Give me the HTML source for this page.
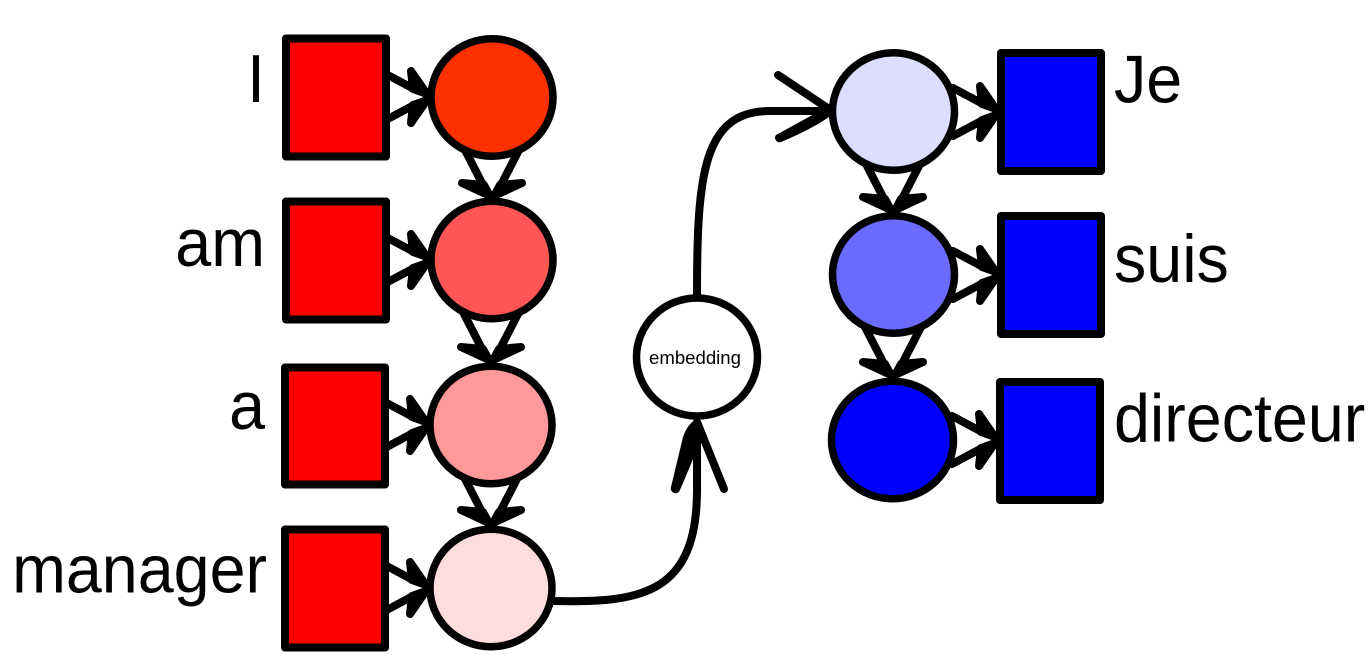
<!DOCTYPE html>
<html>
<head>
<meta charset="utf-8">
<style>
html,body{margin:0;padding:0;background:#fff;width:1372px;height:662px;overflow:hidden}
svg{display:block}
text{font-family:"Liberation Sans",Arial,sans-serif;fill:#000}
.l{font-size:64.6px}
</style>
</head>
<body>
<svg width="1372" height="662" viewBox="0 0 1372 662" xmlns="http://www.w3.org/2000/svg">
<defs>
  <g id="h" fill="#000" stroke="#000" stroke-width="8" stroke-linecap="round" stroke-linejoin="round">
    <path d="M-45,-24 L-15,-8" fill="none"/>
    <path d="M-18,-26 L-2,-3 L-16,-8 Z"/>
    <path d="M-45,24 L-15,8" fill="none"/>
    <path d="M-18,26 L-2,3 L-16,8 Z"/>
  </g>
  <g id="v" fill="#000" stroke="#000" stroke-width="8" stroke-linecap="round" stroke-linejoin="round">
    <path d="M-28,-50 L-9,-13" fill="none"/>
    <path d="M-30,-15 L-2,-2 L-8,-13 Z"/>
    <path d="M28,-50 L9,-13" fill="none"/>
    <path d="M30,-15 L2,-2 L8,-13 Z"/>
  </g>
</defs>

<!-- connectors -->
<use href="#h" x="429" y="97"/>
<use href="#h" x="429" y="260"/>
<use href="#h" x="428" y="425"/>
<use href="#h" x="428" y="588"/>
<use href="#v" x="492" y="198"/>
<use href="#v" x="491" y="362"/>
<use href="#v" x="491" y="525"/>
<use href="#h" x="998" y="112"/>
<use href="#h" x="998" y="275"/>
<use href="#h" x="997" y="440"/>
<use href="#v" x="893" y="212"/>
<use href="#v" x="893" y="377"/>

<g fill="none" stroke="#000" stroke-width="8" stroke-linecap="round" stroke-linejoin="round">
  <path d="M553,601 C640,603 697,595 697,490 L697,424"/>
  <path d="M724,489 L697,422"/>
  <path d="M697,294 C697,175 703,111 770,111 L828,111"/>
  <path d="M778,75 L829,109"/>
</g>
<path d="M671,487 L683,437 Q687,425 695,420 L699,445 L680,490 A4.5,4.5 0 0 1 671,487 Z" fill="#000"/>
<path d="M776,135 L816,113 L830,110 L829,117 Q810,130 781,142 A4.5,4.5 0 0 1 776,135 Z" fill="#000"/>

<!-- left squares -->
<g fill="#ff0000" stroke="#000" stroke-width="8" stroke-linejoin="round">
  <rect x="286" y="38.5" width="100" height="118"/>
  <rect x="286" y="201.5" width="100" height="118"/>
  <rect x="285" y="367.5" width="100" height="117"/>
  <rect x="285" y="529.5" width="100" height="118"/>
</g>
<!-- circles -->
<g stroke="#000" stroke-width="7.5">
  <ellipse cx="492" cy="97.5" rx="61" ry="58.7" fill="#ff3000"/>
  <ellipse cx="492" cy="260" rx="61" ry="58.7" fill="#ff5555"/>
  <ellipse cx="491" cy="425" rx="61" ry="58.7" fill="#ff9999"/>
  <ellipse cx="491" cy="588" rx="61" ry="58.7" fill="#ffdddd"/>
  <ellipse cx="697" cy="357" rx="60.5" ry="59" fill="#ffffff"/>
  <ellipse cx="893.5" cy="111.5" rx="61" ry="58.7" fill="#ddddff"/>
  <ellipse cx="893.5" cy="274.5" rx="61" ry="58.7" fill="#6b6bff"/>
  <ellipse cx="892.5" cy="440" rx="61" ry="58.7" fill="#0000ff"/>
</g>
<!-- right squares -->
<g fill="#0000ff" stroke="#000" stroke-width="8" stroke-linejoin="round">
  <rect x="1001" y="53" width="100" height="118"/>
  <rect x="1001" y="216" width="100" height="118"/>
  <rect x="1000" y="382" width="100" height="118"/>
</g>

<!-- labels -->
<text class="l" transform="translate(265,102) scale(1,1.05)" text-anchor="end">I</text>
<text class="l" transform="translate(265,266) scale(1,1.05)" text-anchor="end">am</text>
<text class="l" transform="translate(265,429) scale(1,1.05)" text-anchor="end">a</text>
<text class="l" transform="translate(267,592.5) scale(1,1.05)" text-anchor="end">manager</text>
<text class="l" transform="translate(1114,102.5) scale(1,1.05)">Je</text>
<text class="l" transform="translate(1114,282) scale(1,1.05)">suis</text>
<text class="l" transform="translate(1114,441.5) scale(1,1.05)">directeur</text>
<text x="695" y="364" text-anchor="middle" font-size="18.6">embedding</text>
</svg>
</body>
</html>
